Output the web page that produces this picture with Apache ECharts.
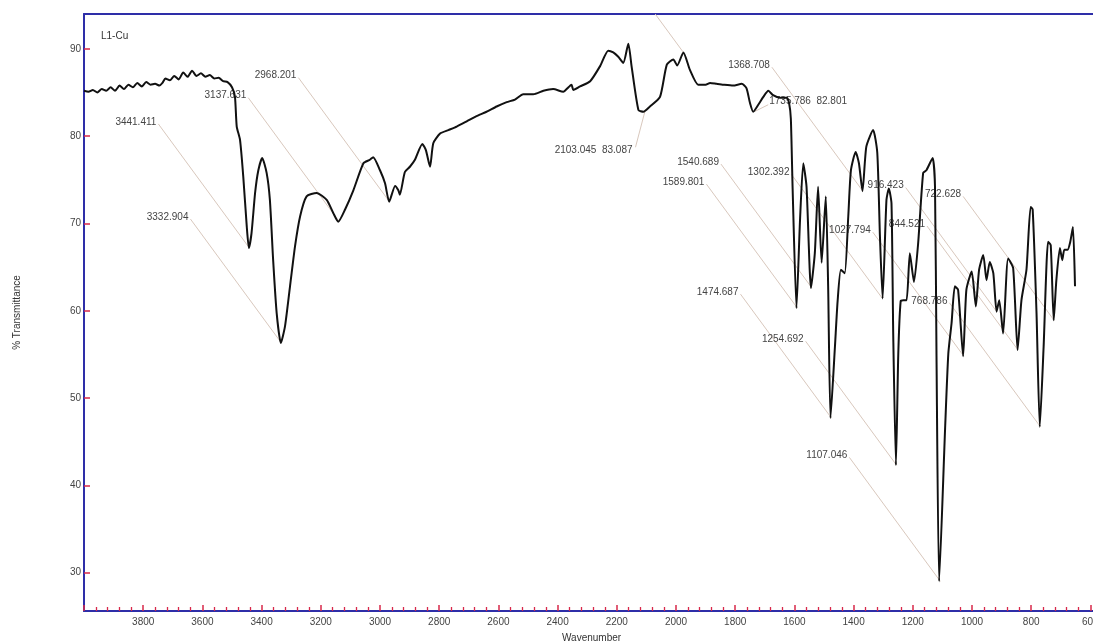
<!DOCTYPE html>
<html><head><meta charset="utf-8">
<script src="https://cdn.jsdelivr.net/npm/echarts@6/dist/echarts.min.js"></script>
<style>html,body{margin:0;padding:0;background:#fff}#c{width:1093px;height:644px}</style>
</head><body><div id="c"></div>
<script>
// Spectrum (wavenumber, %T)
const wavenumbers = [4000,3985,3970,3955,3940,3925,3910,3895,3880,3865,3850,3835,3820,3805,3790,3775,3760,3745,3735,3725,3710,3695,3680,3665,3650,3635,3620,3605,3590,3575,3560,3545,3530,3515,3500,3490,3484,3473,3462,3450,3443,3434,3422,3411,3398,3383,3372,3361,3349,3335,3321,3304,3287,3270,3248,3214,3180,3158,3141,3118,3090,3056,3034,3023,3000,2983,2969,2949,2938,2933,2916,2899,2882,2857,2845,2831,2820,2797,2769,2741,2707,2674,2640,2606,2572,2544,2516,2482,2448,2415,2381,2353,2347,2324,2290,2257,2229,2212,2195,2178,2161,2150,2127,2110,2088,2054,2031,2009,1996,1975,1953,1925,1900,1885,1863,1840,1807,1778,1762,1750,1739,1722,1705,1688,1672,1649,1626,1618,1612,1606,1593,1581,1570,1559,1544,1531,1520,1508,1494,1486,1478,1463,1454,1443,1430,1418,1409,1393,1382,1370,1357,1334,1320,1311,1302,1289,1281,1272,1266,1257,1249,1241,1232,1221,1210,1196,1182,1165,1154,1133,1125,1120,1111,1091,1080,1069,1058,1047,1030,1019,1001,987,976,962,951,940,928,917,908,895,878,861,846,833,816,802,795,782,771,758,743,734,724,715,703,695,688,677,668,659,652];
const transmittance = [85.2,85.1,85.3,85.0,85.4,85.2,85.6,85.2,85.8,85.4,85.9,85.6,86.1,85.7,86.2,85.9,86.0,85.8,86.1,86.6,86.4,86.9,86.5,87.3,86.8,87.5,86.9,87.2,86.8,87.0,86.6,86.7,86.3,86.2,85.6,84.5,81.1,79.6,75.4,69.6,67.2,68.9,73.5,76.1,77.5,75.8,72.7,65.8,59.7,56.3,58.2,62.8,67.4,70.8,73.1,73.5,72.7,71.2,70.2,71.6,73.8,76.9,77.3,77.6,76.1,74.6,72.5,74.3,73.8,73.3,75.9,76.5,77.3,79.1,78.4,76.5,79.2,80.3,80.7,81.1,81.7,82.3,82.8,83.4,83.9,84.2,84.8,84.8,85.2,85.4,85.1,85.9,85.3,85.7,86.3,88.0,89.8,89.6,89.1,88.4,90.6,88.0,83.0,82.8,83.4,84.5,88.2,88.8,88.1,89.6,87.6,85.9,85.9,86.1,86.0,85.9,85.8,86.0,85.5,83.8,82.8,83.6,84.5,85.2,84.7,84.4,84.4,83.8,82.0,74.0,60.3,70.4,76.9,74.2,62.6,66.6,74.2,65.5,73.1,62.8,47.7,55.9,61.1,64.7,64.3,70.8,76.1,78.2,76.9,73.7,78.8,80.7,78.1,68.5,61.4,72.7,74.0,72.3,57.0,42.3,55.1,61.1,61.2,61.2,66.6,63.3,67.7,75.8,76.1,77.5,74.2,55.1,29.0,46.4,55.1,58.6,62.8,62.4,54.8,62.4,64.5,60.5,64.7,66.4,63.5,65.6,64.3,59.9,61.2,57.4,66.0,64.9,55.5,61.2,64.7,71.9,71.6,59.7,46.7,55.9,67.9,67.5,58.9,63.5,67.2,65.8,67.0,67.0,67.9,69.6,62.8];

// Peak annotations
const peakWaves  = [3441.411,3332.904,3137.631,2968.201,2103.045,1735.786,1589.801,1540.689,1474.687,1368.708,1302.392,1254.692,1107.046,1027.794,916.423,844.521,768.786,722.628,1975];
const peakValues = [67.2,56.3,70.2,72.5,83.087,82.801,60.3,62.6,47.7,73.7,61.4,42.3,29.0,54.8,59.9,55.5,46.7,58.9,89.6];
const peakLabels = ['3441.411','3332.904','3137.631','2968.201','2103.045  83.087','1735.786  82.801','1589.801','1540.689','1474.687','1368.708','1302.392','1254.692','1107.046','1027.794','916.423','844.521','768.786','722.628',''];

const yTickValues = [30,40,50,60,70,80,90];
const chartTitle = 'L1-Cu';
const xName = 'Wavenumber';
const yName = '% Transmittance';

// layout of annotation labels (pixel offsets from the peak)
function labelLayout(i){
  const t = peakLabels[i];
  if (t.indexOf('2103') === 0) return {line:[-10,38], text:[-13,41], align:'right'};
  if (t.indexOf('1735') === 0) return {line:[14,-7], text:[15,-10], align:'left'};
  return {line:[-91,-124], text:[-93,-126], align:'right'};
}

const FONT = '"Liberation Sans", Arial, sans-serif';
const AXIS_BLUE = '#2e2ea8';
const TICK_RED = '#d8284a';

const chart = echarts.init(document.getElementById('c'));
chart.setOption({
  animation: false,
  backgroundColor: '#fff',
  title: {text: chartTitle, left: 96, top: 26, textStyle: {fontSize: 10, fontWeight: 'normal', color: '#333', fontFamily: FONT}},
  grid: {left: 84, top: 14, bottom: 33, right: -56.6, containLabel: false, outerBoundsMode: 'none'},
  xAxis: [{
    type: 'value', inverse: true, min: 400, max: 4000, interval: 200, position: 'bottom',
    axisLine: {show: true, lineStyle: {color: AXIS_BLUE, width: 2}},
    axisTick: {show: true, inside: true, length: 6, lineStyle: {color: TICK_RED, width: 1.5}},
    minorTick: {show: true, splitNumber: 5, length: 4, lineStyle: {color: TICK_RED, width: 1.3}},
    axisLabel: {fontSize: 10, color: '#444', margin: 6, fontFamily: FONT, showMaxLabel: false,
      formatter: function (v) { return String(v); }},
    splitLine: {show: false}
  }, {
    type: 'value', inverse: true, min: 400, max: 4000, position: 'top',
    axisLine: {show: true, lineStyle: {color: AXIS_BLUE, width: 2}},
    axisTick: {show: false}, axisLabel: {show: false}, splitLine: {show: false}
  }],
  yAxis: {
    type: 'value', min: 25.6, max: 94,
    axisLine: {show: true, lineStyle: {color: AXIS_BLUE, width: 2}},
    axisTick: {show: true, inside: true, length: 6, customValues: yTickValues, lineStyle: {color: TICK_RED, width: 1.5}},
    axisLabel: {customValues: yTickValues, fontSize: 10, color: '#444', margin: 3, fontFamily: FONT},
    splitLine: {show: false},
    name: yName, nameLocation: 'middle', nameRotate: 90, nameGap: 62,
    nameTextStyle: {fontSize: 10, color: '#333', fontFamily: FONT}
  },
  graphic: [{type: 'text', left: 562, top: 633, style: {text: xName, fontSize: 10, fill: '#333', fontFamily: FONT}}],
  series: [{
    type: 'custom', coordinateSystem: 'cartesian2d', xAxisIndex: 0, yAxisIndex: 0,
    clip: true, silent: true, z: 1,
    data: peakWaves.map((w, i) => [w, peakValues[i], i]),
    renderItem: function (params, api) {
      const i = api.value(2);
      const p = api.coord([api.value(0), api.value(1)]);
      const o = labelLayout(i);
      const children = [{
        type: 'line',
        shape: {x1: p[0], y1: p[1], x2: p[0] + o.line[0], y2: p[1] + o.line[1]},
        style: {stroke: '#d9c8bd', lineWidth: 1}
      }];
      if (peakLabels[i]) {
        children.push({
          type: 'text', x: p[0] + o.text[0], y: p[1] + o.text[1],
          style: {text: peakLabels[i], align: o.align, verticalAlign: 'middle', fill: '#444', fontSize: 10, fontFamily: FONT}
        });
      }
      return {type: 'group', children: children};
    }
  }, {
    type: 'line', xAxisIndex: 0, yAxisIndex: 0, z: 3,
    data: wavenumbers.map((w, i) => [w, transmittance[i]]),
    showSymbol: false, smooth: 0.2,
    lineStyle: {color: '#111', width: 2},
    silent: true
  }]
});
</script></body></html>
